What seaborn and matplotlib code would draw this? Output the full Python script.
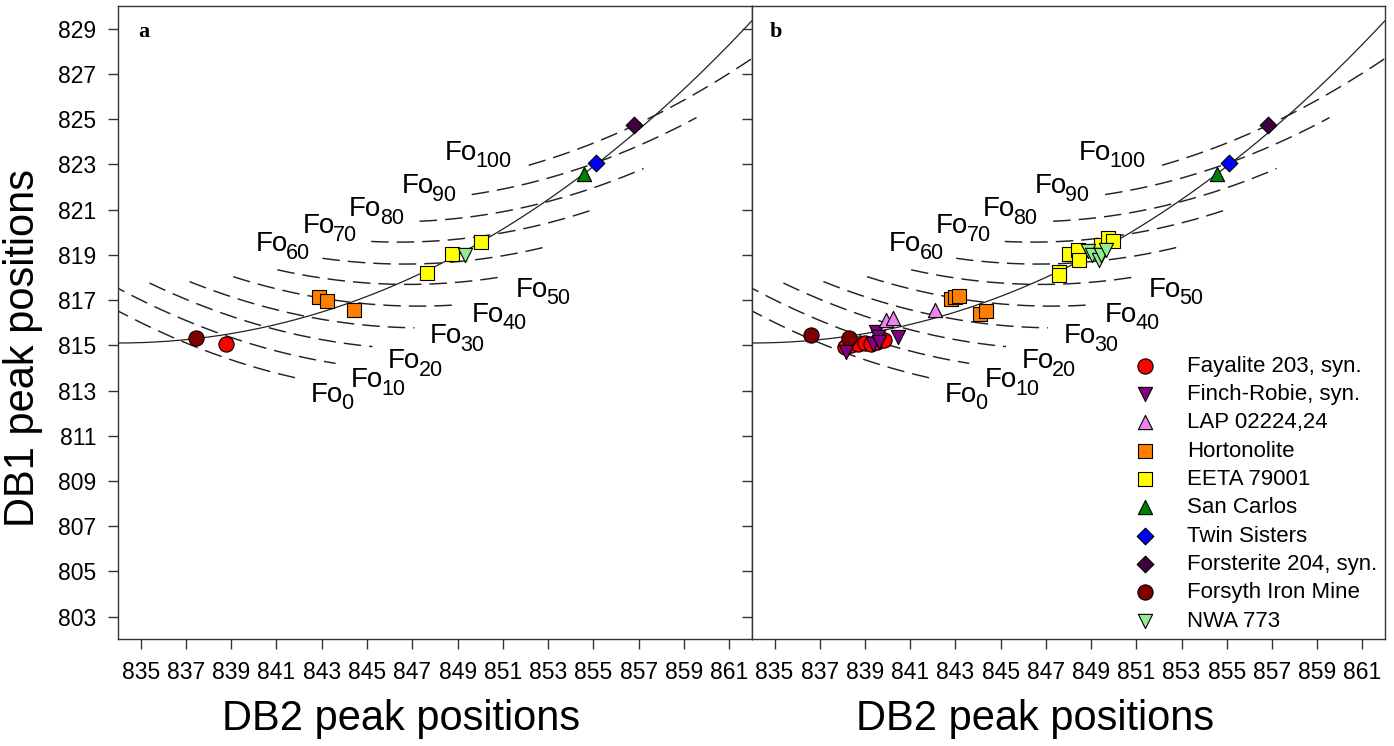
import numpy as np
import pandas as pd
import matplotlib
matplotlib.use("Agg")
import matplotlib.pyplot as plt
import seaborn as sns

# ---------------------------------------------------------------- data
# olivine samples: (DB2, DB1) Raman doublet peak positions, panel a
a_forsyth_x = [837.44]
a_forsyth_y = [815.34]
a_fayalite_x = [838.78]
a_fayalite_y = [815.04]
a_horton_x = [842.88, 843.25, 844.41]
a_horton_y = [817.13, 816.96, 816.56]
a_eeta_x = [847.65, 848.76, 850.02]
a_eeta_y = [818.19, 819.03, 819.56]
a_nwa_x = [849.32]
a_nwa_y = [819.00]
sancarlos_x = [854.59]
sancarlos_y = [822.58]
twinsisters_x = [855.10]
twinsisters_y = [823.06]
forsterite_x = [856.81]
forsterite_y = [824.72]

# panel b
b_fayalite_x = [838.10, 838.40, 838.70, 838.98, 839.25, 839.55, 839.85]
b_fayalite_y = [814.94, 815.02, 815.06, 815.12, 815.05, 815.15, 815.22]
b_finch_x = [838.17, 839.35, 839.50, 839.57, 839.64, 840.45]
b_finch_y = [814.71, 815.05, 815.60, 815.38, 815.16, 815.38]
b_lap_x = [839.94, 840.23, 842.08]
b_lap_y = [816.12, 816.19, 816.56]
b_horton_x = [842.80, 843.00, 843.15, 844.10, 844.36]
b_horton_y = [817.05, 817.12, 817.18, 816.38, 816.50]
b_eeta_x = [847.57, 847.57, 848.04, 848.41, 848.48, 849.45, 849.74, 849.99]
b_eeta_y = [818.26, 818.11, 819.04, 819.22, 818.78, 819.44, 819.74, 819.59]
b_nwa_x = [848.85, 849.05, 849.37, 849.45, 849.67]
b_nwa_y = [819.15, 819.00, 818.78, 819.00, 819.22]
b_forsyth_x = [836.62, 838.29]
b_forsyth_y = [815.46, 815.31]

# calibration curve: DB1 = base + b2*(DB2-x0)^2 + b3*(DB2-x0)^3
calib_x0 = 834.0
calib_base = 815.1
calib_b2 = 0.0163
calib_b3 = 0.000067
calib_xmax = 862.0

# iso-composition curves: DB1 = vy + k*(DB2 - vx)^2
fo_levels = [0, 10, 20, 30, 40, 50, 60, 70, 80, 90, 100]
fo_vertex_x = [847.58, 847.66, 847.63, 847.40, 847.26, 846.80,
               846.65, 846.40, 846.22, 845.80, 844.80]
fo_vertex_y = [812.92, 813.88, 814.83, 815.77, 816.73, 817.69,
               818.59, 819.56, 820.46, 821.38, 821.91]
fo_curvature = 0.0195
fo_x_start = [831.80, 833.60, 835.39, 837.16, 839.09, 841.04,
              843.03, 845.18, 847.32, 849.62, 852.14]
fo_x_end = [841.83, 843.61, 845.24, 847.09, 849.04, 850.96,
            852.96, 854.96, 857.21, 859.55, 862.50]
# label anchor (left edge of "Fo", baseline)
fo_label_x = [842.51, 844.29, 845.92, 847.77, 849.62, 851.55,
              840.07, 842.14, 844.21, 846.51, 848.44]
fo_label_y = [812.50, 813.16, 813.98, 815.09, 816.04, 817.15,
              819.15, 819.96, 820.70, 821.73, 823.21]

x_ticks = list(range(835, 862, 2))
y_ticks = list(range(803, 830, 2))

# ---------------------------------------------------------------- styles
sample_style = {
    "Fayalite 203, syn.":  dict(color="#ff0000", marker="o", s=120),
    "Finch-Robie, syn.":   dict(color="#800080", marker="v", s=105),
    "LAP 02224,24":        dict(color="#ee82ee", marker="^", s=105),
    "Hortonolite":         dict(color="#ff8000", marker="s", s=88),
    "EETA 79001":          dict(color="#ffff00", marker="s", s=88),
    "San Carlos":          dict(color="#008000", marker="^", s=105),
    "Twin Sisters":        dict(color="#0000ff", marker="D", s=72),
    "Forsterite 204, syn.": dict(color="#400040", marker="D", s=72),
    "Forsyth Iron Mine":   dict(color="#800000", marker="o", s=120),
    "NWA 773":             dict(color="#90ee90", marker="v", s=105),
}
legend_order = list(sample_style.keys())

panel_a = [
    ("Forsyth Iron Mine", a_forsyth_x, a_forsyth_y),
    ("Fayalite 203, syn.", a_fayalite_x, a_fayalite_y),
    ("Hortonolite", a_horton_x, a_horton_y),
    ("EETA 79001", a_eeta_x, a_eeta_y),
    ("NWA 773", a_nwa_x, a_nwa_y),
    ("San Carlos", sancarlos_x, sancarlos_y),
    ("Twin Sisters", twinsisters_x, twinsisters_y),
    ("Forsterite 204, syn.", forsterite_x, forsterite_y),
]
panel_b = [
    ("Fayalite 203, syn.", b_fayalite_x, b_fayalite_y),
    ("Forsyth Iron Mine", b_forsyth_x, b_forsyth_y),
    ("Finch-Robie, syn.", b_finch_x, b_finch_y),
    ("LAP 02224,24", b_lap_x, b_lap_y),
    ("Hortonolite", b_horton_x, b_horton_y),
    ("EETA 79001", b_eeta_x, b_eeta_y),
    ("NWA 773", b_nwa_x, b_nwa_y),
    ("San Carlos", sancarlos_x, sancarlos_y),
    ("Twin Sisters", twinsisters_x, twinsisters_y),
    ("Forsterite 204, syn.", forsterite_x, forsterite_y),
]

# ---------------------------------------------------------------- theme
sns.set_theme(style="ticks")
plt.rcParams["font.family"] = ["Liberation Sans", "DejaVu Sans"]
plt.rcParams["axes.edgecolor"] = "#333333"
plt.rcParams["axes.linewidth"] = 1.0
plt.rcParams["text.color"] = "black"
plt.rcParams["axes.labelcolor"] = "black"
plt.rcParams["xtick.color"] = "#333333"
plt.rcParams["ytick.color"] = "#333333"
plt.rcParams["xtick.labelcolor"] = "black"
plt.rcParams["ytick.labelcolor"] = "black"

fig = plt.figure(figsize=(13.94, 7.46), dpi=100)
ax_a = fig.add_axes([0.08465, 0.14303, 0.45480, 0.84893])
ax_b = fig.add_axes([0.53945, 0.14303, 0.45409, 0.84893], sharey=ax_a)


def draw_curves(ax):
    cx = np.linspace(calib_x0, calib_xmax, 300)
    dx = cx - calib_x0
    cy = calib_base + calib_b2 * dx ** 2 + calib_b3 * dx ** 3
    sns.lineplot(x=cx, y=cy, ax=ax, color="#222222", lw=0.9,
                 sort=False, estimator=None, legend=False, zorder=2)
    for i in range(len(fo_levels)):
        fx = np.linspace(fo_x_start[i], fo_x_end[i], 200)
        fy = fo_vertex_y[i] + fo_curvature * (fx - fo_vertex_x[i]) ** 2
        sns.lineplot(x=fx, y=fy, ax=ax, color="#222222", lw=1.05,
                     sort=False, estimator=None, legend=False, zorder=2,
                     linestyle=(0, (12, 5.5)))
        ax.text(fo_label_x[i], fo_label_y[i], "Fo", fontsize=20,
                ha="left", va="baseline", zorder=4)
        ax.annotate(str(fo_levels[i]), xy=(fo_label_x[i], fo_label_y[i]),
                    xytext=(22.0, -5.5), textcoords="offset points",
                    fontsize=15.5, ha="left", va="baseline", zorder=4)


def draw_points(ax, groups):
    for name, xs, ys in groups:
        st = sample_style[name]
        sns.scatterplot(x=xs, y=ys, ax=ax, marker=st["marker"],
                        color=st["color"], s=st["s"], edgecolor="black",
                        linewidth=0.8, label=name, zorder=3)


for ax, groups, letter in [(ax_a, panel_a, "a"), (ax_b, panel_b, "b")]:
    draw_curves(ax)
    draw_points(ax, groups)
    ax.set_xlim(834, 862)
    ax.set_ylim(802, 830)
    ax.set_xticks(x_ticks)
    ax.set_yticks(y_ticks)
    ax.tick_params(direction="out", length=7, width=1.0, pad=8.5,
                   labelsize=16.5)
    for sp in ax.spines.values():
        sp.set_visible(True)
    ax.set_xlabel("DB2 peak positions", fontsize=30)
    ax.xaxis.set_label_coords(0.447, -0.094)
    ax.text(0.028 if letter == "b" else 0.0315, 0.951, letter,
            transform=ax.transAxes, fontsize=16, fontweight="bold",
            family=["Liberation Serif", "DejaVu Serif"],
            ha="left", va="baseline")
    if ax.get_legend() is not None:
        ax.get_legend().remove()

ax_a.set_ylabel("DB1 peak positions", fontsize=30)
ax_a.yaxis.set_label_coords(-0.118, 0.46)
plt.setp(ax_b.get_yticklabels(), visible=False)
ax_b.set_ylabel("")

handles, labels = ax_b.get_legend_handles_labels()
hmap = dict(zip(labels, handles))
leg = ax_b.legend([hmap[n] for n in legend_order], legend_order,
                  loc="lower right", bbox_to_anchor=(1.0, 0.0),
                  frameon=False, fontsize=16, labelspacing=0.33,
                  handletextpad=0.9, borderaxespad=0.15, borderpad=0.2,
                  markerscale=1.0)

fig.savefig("out.png", dpi=100)
